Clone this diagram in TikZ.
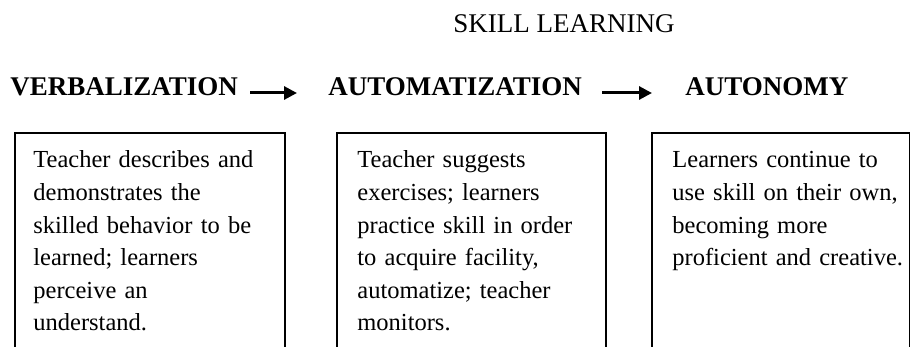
\documentclass[tikz,border=0pt]{standalone}
\usepackage{fontspec}
\setmainfont{Liberation Serif}
\usetikzlibrary{arrows.meta}

\begin{document}
\begin{tikzpicture}[x=0.5pt, y=-0.5pt]
\useasboundingbox (0, 0) rectangle (911, 347);

\begin{scope}[every node/.style={inner sep=0pt, anchor=base west}]
    \node (title) at (453, 33) [font=\fontsize{13.5}{16}\selectfont] {SKILL LEARNING};

    \node (verb) at (10, 96) [font=\fontsize{13.5}{16}\selectfont\bfseries] {VERBALIZATION};
    \node (auto) at (328, 96) [font=\fontsize{13.5}{16}\selectfont\bfseries] {AUTOMATIZATION};
    \node (autn) at (685, 96) [font=\fontsize{13.5}{16}\selectfont\bfseries] {AUTONOMY};
\end{scope}

\begin{scope}[every node/.style={inner sep=0pt, anchor=base west, text width=125pt, align=left,
                                 font=\fontsize{12.25}{16.3}\selectfont}]
    \node (verbtxt) at (33, 168) {Teacher describes and\\ demonstrates the\\ skilled behavior to be\\
        learned; learners\\ perceive an\\ understand.};
    \node (autotxt) at (357, 168) {Teacher suggests\\ exercises; learners\\ practice skill in order\\
        to acquire facility,\\ automatize; teacher\\ monitors.};
    \node (autntxt) at (672, 168) {Learners continue to\\ use skill on their own,\\ becoming more\\
        proficient and creative.};
\end{scope}

% frames, open at the bottom
\begin{scope}[line width=0.9pt]
    \draw (15, 347) |- (285, 133) -- (285, 347);
    \draw (337, 347) |- (606, 133) -- (606, 347);
    \draw (652, 347) |- (909.5, 133) -- (909.5, 347);
\end{scope}

\begin{scope}[>={Triangle[length=6.5pt,width=6.5pt]},
              every edge/.style={draw=black,line width=1.5pt}]
    \path [->] ([xshift=6pt,yshift=1.5pt]verb.base east) edge ([xshift=-15.5pt,yshift=1.5pt]auto.base west);
    \path [->] ([xshift=10pt,yshift=1.5pt]auto.base east) edge ([xshift=-16.5pt,yshift=1.5pt]autn.base west);
\end{scope}
\end{tikzpicture}
\end{document}
